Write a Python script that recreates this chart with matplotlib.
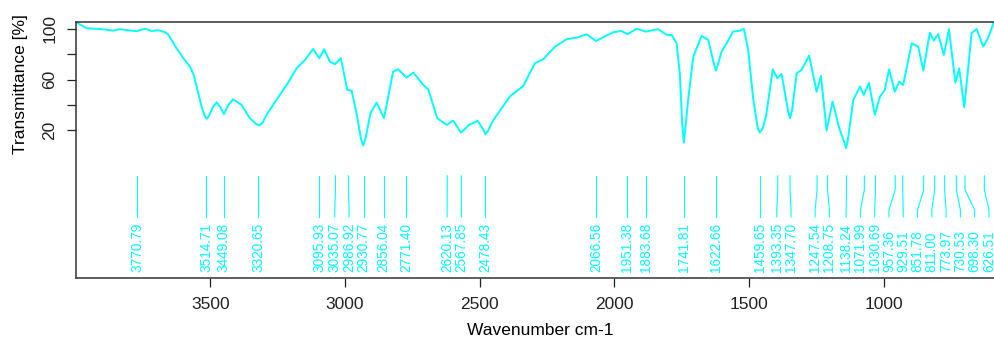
import numpy as np
import matplotlib
matplotlib.use("Agg")
import matplotlib.pyplot as plt

# spectrum (wavenumber cm-1, transmittance %)
wavenumber = [3995, 3958, 3909, 3860, 3835, 3773, 3742, 3717, 3693, 3670,
              3656, 3640, 3625, 3600, 3575, 3562, 3550, 3532, 3520, 3513,
              3505, 3490, 3476, 3462, 3449, 3432, 3415, 3383, 3353, 3330,
              3318, 3305, 3291, 3254, 3216, 3179, 3148, 3118, 3095, 3077,
              3056, 3037, 3015, 2991, 2975, 2957, 2940, 2932, 2924, 2905,
              2882, 2855, 2821, 2802, 2771, 2746, 2709, 2691, 2657, 2622,
              2598, 2569, 2539, 2507, 2485, 2479, 2470, 2450, 2388, 2338,
              2295, 2264, 2220, 2177, 2140, 2103, 2068, 2041, 2004, 1973,
              1951, 1917, 1883, 1837, 1806, 1787, 1769, 1757, 1748, 1742,
              1736, 1726, 1707, 1676, 1651, 1630, 1623, 1615, 1602, 1583,
              1559, 1534, 1519, 1503, 1484, 1468, 1460, 1450, 1437, 1412,
              1395, 1379, 1355, 1348, 1340, 1323, 1305, 1277, 1249, 1233,
              1212, 1190, 1165, 1146, 1140, 1134, 1113, 1088, 1074, 1055,
              1033, 1014, 996, 980, 959, 942, 928, 896, 872, 853,
              829, 814, 798, 777, 758, 734, 720, 701, 674, 655,
              631, 613, 594, 580]
transmittance = [105, 100.5, 100, 98.7, 99.8, 98.2, 100.2, 98.4, 99, 97.5,
                 95.8, 90, 84.7, 77, 70.2, 64, 54.4, 38.6, 31, 28.9,
                 31, 38, 42, 38, 32.6, 40, 44.4, 39.9, 29.4, 25,
                 23.6, 26, 32, 43.9, 55.7, 68.9, 75.5, 84.2, 76.8, 84,
                 74.2, 72.1, 76.8, 51.8, 51.2, 33.4, 13, 7.8, 13, 33.4,
                 41.7, 29.4, 66.2, 68.1, 61.5, 65.5, 55.7, 52.3, 29.4, 24.1,
                 27.5, 18, 24.1, 27.3, 20, 16.8, 19, 27.5, 46.5, 54.9,
                 72.9, 76, 86, 91.9, 93.1, 95.8, 90.5, 93.4, 97.4, 98.4,
                 95.8, 100.2, 97.9, 99.8, 95.3, 95.3, 88.7, 65, 25, 10.1,
                 22, 43.9, 78.1, 94.5, 91.3, 72, 67, 72, 82.1, 88.7,
                 97.9, 98.7, 100, 83.4, 43.9, 22, 18, 21, 30.7, 68.1,
                 61, 64.4, 35, 29.4, 36, 65, 67.6, 78.9, 50.4, 62.8,
                 19.6, 42.5, 21.5, 10, 5.7, 11, 43.9, 54.4, 47.8, 57.5,
                 32, 46.5, 51.8, 68.1, 50.4, 58.3, 55.7, 88.7, 86, 67,
                 97.1, 90.8, 96, 79.4, 99.8, 57.5, 68.9, 38.1, 96.6, 100,
                 86, 92.6, 104, 106]

peaks = [3770.79, 3514.71, 3449.08, 3320.65, 3095.93, 3035.07, 2986.92,
         2930.77, 2856.04, 2771.40, 2620.13, 2567.85, 2478.43, 2066.56,
         1951.38, 1883.68, 1741.81, 1622.66, 1459.65, 1393.35, 1347.70,
         1247.54, 1208.75, 1138.24, 1071.99, 1030.69, 957.36, 929.51,
         851.78, 811.00, 773.97, 730.53, 698.30, 626.51, 551.70]

cyan = "#00FFFF"
plt.rcParams["font.family"] = ["Liberation Sans", "DejaVu Sans"]

fig = plt.figure(figsize=(9.95, 3.41), dpi=100)
ax = fig.add_axes([76 / 995, 1 - 278 / 341, 1 - 76 / 995, 256 / 341])

ax.plot(wavenumber, transmittance, color=cyan, lw=1.4, solid_joinstyle="round")

# spread the peak labels so they do not overlap
gap = 53.0
lab = np.array(peaks, dtype=float)
for _ in range(500):
    moved = False
    for i in range(len(lab) - 1):
        d = lab[i] - lab[i + 1]
        if d < gap - 1e-6:
            shift = (gap - d) / 2
            lab[i] += shift
            lab[i + 1] -= shift
            moved = True
    if not moved:
        break

for p, lx in zip(peaks, lab):
    ax.plot([p, p, lx, lx], [-16.2, -27.3, -43.1, -48.6], color=cyan, lw=0.8,
            clip_on=False)
    ax.text(lx, -92.1, "%.2f" % p, rotation=90, ha="center", va="bottom",
            color=cyan, fontsize=9.8, clip_on=False)

ax.set_xlim(3998, 587)
ax.set_ylim(-97, 105.5)
ax.set_xticks([3500, 3000, 2500, 2000, 1500, 1000])
ax.set_yticks([20, 40, 60, 80, 100])
ax.set_yticklabels(["20", "", "60", "", "100"], rotation=90, va="center")
ax.tick_params(length=6.5, width=0.9, pad=7, labelsize=12.5, colors="#222222")
ax.spines["right"].set_visible(False)
for s in ["left", "top", "bottom"]:
    ax.spines[s].set_linewidth(1.1)
    ax.spines[s].set_color("#333333")

ax.set_xlabel("Wavenumber cm-1", fontsize=12.5)
ax.xaxis.set_label_coords(0.505, -0.176)
ax.text((20 - 76) / 919, (278 - 84) / 256, "Transmittance [%]", rotation=90,
        ha="center", va="center", fontsize=12.5, transform=ax.transAxes)

fig.savefig("out.png", dpi=100)
